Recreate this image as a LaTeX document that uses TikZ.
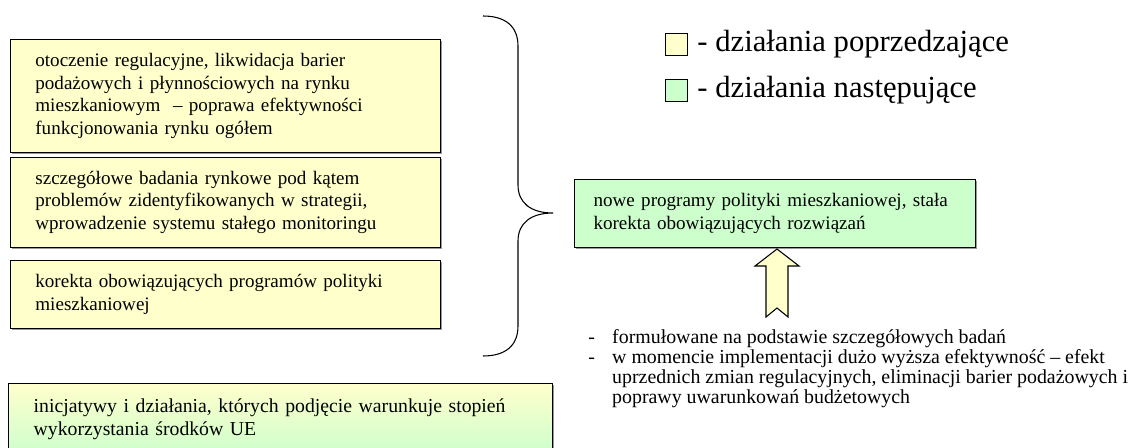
\documentclass[tikz,border=0pt]{standalone}
\usepackage{fontspec}
\setmainfont{Liberation Serif}
\usepackage{tikz}
\usetikzlibrary{shadows,positioning}
\usepackage{xcolor}
\definecolor{prevcolor}{RGB}{255, 255, 204}
\definecolor{nextcolor}{RGB}{204, 255, 204}

\begin{document}
\begin{tikzpicture}[
    x=0.75pt, y=-0.75pt,
    blok/.style={rectangle, draw, line width=0.6pt, anchor=north west, align=left,
        inner xsep=18.75pt, inner ysep=0pt, font=\fontsize{14.3}{17}\selectfont,
        drop shadow={shadow xshift=0.9pt, shadow yshift=-0.9pt, opacity=0.8}},
    znak/.style={rectangle, draw, line width=0.6pt, minimum size=16.5pt, inner sep=0pt},
    opis/.style={anchor=west, font=\fontsize{23}{26}\selectfont}
]
    \clip (0,0) rectangle (1138,447);

    % Preceding actions
    \node[blok, fill=prevcolor, minimum width=322.5pt, minimum height=84.75pt, text width=285pt] (otoczenie) at (10,39)
        {otoczenie regulacyjne, likwidacja barier\\podażowych i płynnościowych na rynku\\mieszkaniowym \ – poprawa efektywności\\funkcjonowania rynku ogółem};
    \node[blok, fill=prevcolor, minimum width=322.5pt, minimum height=67.5pt, text width=285pt] (badania) at (10,157)
        {szczegółowe badania rynkowe pod kątem\\problemów zidentyfikowanych w strategii,\\wprowadzenie systemu stałego monitoringu};
    \node[blok, fill=prevcolor, minimum width=322.5pt, minimum height=51pt, text width=285pt] (korekta) at (10,260)
        {korekta obowiązujących programów polityki\\mieszkaniowej};

    % Bottom box
    \node[blok, top color=prevcolor, bottom color=nextcolor, minimum width=408pt, minimum height=54pt, text width=370pt,
        font=\fontsize{14.8}{17}\selectfont] (inicjatywy) at (8,383)
        {inicjatywy i działania, których podjęcie warunkuje stopień\\wykorzystania środków UE};

    % Brace
    \draw[line width=0.8pt] (483,16) .. controls (505,16) and (518,26) .. (518,46) -- (518,185)
        .. controls (518,203) and (531,213) .. (553,213)
        .. controls (531,213) and (518,223) .. (518,241) -- (518,326)
        .. controls (518,346) and (505,356) .. (483,356);

    % Following actions
    \node[blok, fill=nextcolor, minimum width=300.75pt, minimum height=51pt, text width=272pt, inner xsep=14.25pt] (nowe) at (574,179)
        {nowe programy polityki mieszkaniowej, stała\\korekta obowiązujących rozwiązań};

    % Block arrow
    \draw[line width=0.8pt, fill=prevcolor, line join=miter] (777,249) -- (799,266) -- (788,266) -- (788,317)
        -- (777,308) -- (766,317) -- (766,266) -- (755,266) -- cycle;

    % Remarks
    \node[anchor=base west, inner sep=0pt, font=\fontsize{14.9}{15}\selectfont] (uwagi) at (588,343) {%
        \begin{tabular}[t]{@{}l@{\hspace{13pt}}l@{}}
        - & formułowane na podstawie szczegółowych badań \\
        - & w momencie implementacji dużo wyższa efektywność – efekt \\
          & uprzednich zmian regulacyjnych, eliminacji barier podażowych i \\
          & poprawy uwarunkowań budżetowych
        \end{tabular}};

    % Legend
    \node[znak, fill=prevcolor] (znakpop) at (676,44) {};
    \node[znak, fill=nextcolor] (znaknast) at (676,90) {};
    \node[opis, right=4pt of znakpop] (opispop) {- działania poprzedzające};
    \node[opis, right=4pt of znaknast] (opisnast) {- działania następujące};
\end{tikzpicture}
\end{document}
